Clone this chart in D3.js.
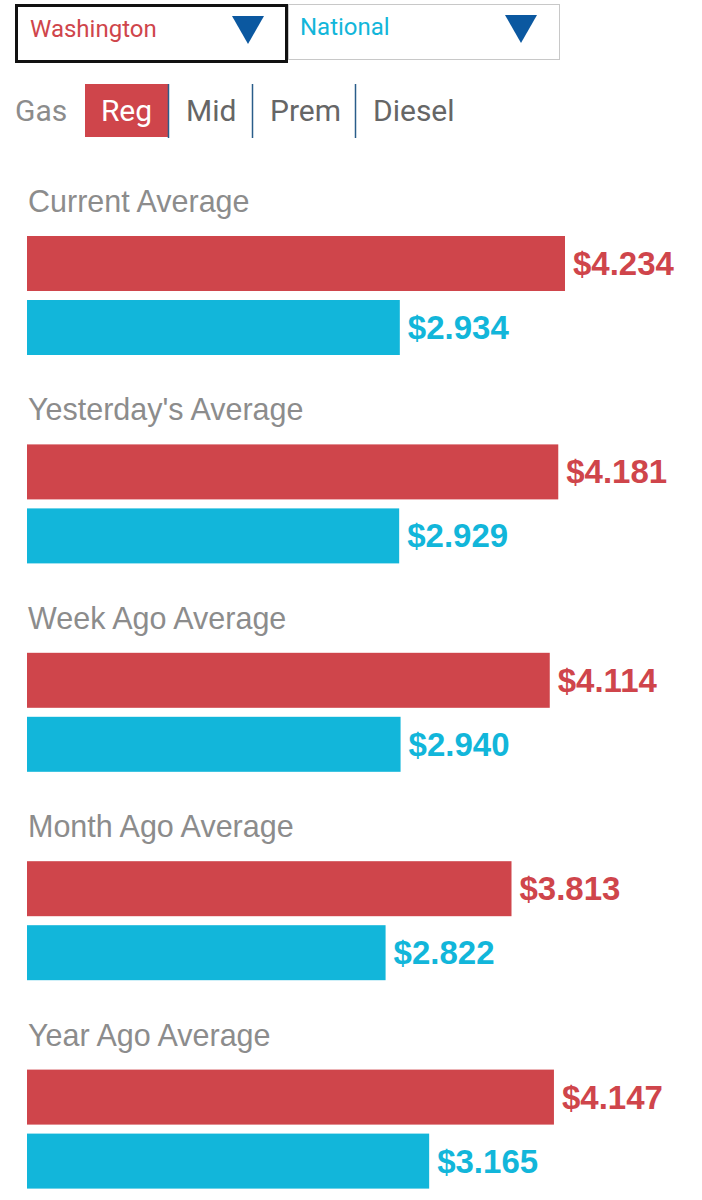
<!DOCTYPE html>
<html><head><meta charset="utf-8">
<script src="https://cdn.jsdelivr.net/npm/d3@7"></script>
<style>
html,body{margin:0;padding:0;background:#fff;}
svg{display:block;}
</style></head>
<body>
<svg id="chart" width="702" height="1200"></svg>
<script>
const categories = ["Current Average","Yesterday's Average","Week Ago Average","Month Ago Average","Year Ago Average"];
const stateValues = [4.234, 4.181, 4.114, 3.813, 4.147];
const nationalValues = [2.934, 2.929, 2.940, 2.822, 3.165];
const seriesNames = ["Washington","National"];
const gasTabs = ["Reg","Mid","Prem","Diesel"];

const RED = "#cf454b", BLUE = "#12b6da", NAVY = "#0b58a0", GRAY = "#8c8c8c";
const svg = d3.select("#chart");

// ---- dropdowns ----
const dd = svg.append("g");
dd.append("rect").attr("x",288.5).attr("y",4.5).attr("width",271).attr("height",55)
  .attr("fill","#fff").attr("stroke","#c8c8c8").attr("stroke-width",1);
dd.append("rect").attr("x",16.5).attr("y",5.5).attr("width",270).attr("height",56)
  .attr("fill","#fff").attr("stroke","#111").attr("stroke-width",3);
dd.append("text").attr("x",30).attr("y",37).attr("font-family","Roboto, 'Liberation Sans', sans-serif")
  .attr("font-size",24).attr("fill",RED).text(seriesNames[0]);
dd.append("text").attr("x",300).attr("y",35).attr("font-family","Roboto, 'Liberation Sans', sans-serif")
  .attr("font-size",24).attr("fill",BLUE).text(seriesNames[1]);
const tri = (cx, ty) => `M${cx-16},${ty} L${cx+16},${ty} L${cx},${ty+28} Z`;
dd.append("path").attr("d",tri(248,16)).attr("fill",NAVY);
dd.append("path").attr("d",tri(521,15)).attr("fill",NAVY);

// ---- gas tabs ----
const tabs = svg.append("g").attr("font-family","Roboto, 'Liberation Sans', sans-serif").attr("font-size",30);
tabs.append("text").attr("x",15).attr("y",121).attr("fill",GRAY).text("Gas");
const tabX = [85, 168, 252, 355];
const tabW = [83, 84, 103, 100];
const textX = [126.5, 186, 270, 373];
gasTabs.forEach((t,i)=>{
  if(i===0){
    tabs.append("rect").attr("x",tabX[i]).attr("y",84).attr("width",tabW[i]).attr("height",53).attr("fill",RED);
  }
  if(i>0){
    tabs.append("line").attr("x1",tabX[i]+0.5).attr("x2",tabX[i]+0.5).attr("y1",84).attr("y2",138)
      .attr("stroke","#2a5d8a").attr("stroke-width",1.5);
  }
  tabs.append("text").attr("x",textX[i]).attr("y",121).attr("text-anchor", i===0 ? "middle" : "start")
    .attr("fill", i===0 ? "#fff" : "#666").text(t);
});

// ---- bars ----
const x = d3.scaleLinear().domain([0, d3.max(stateValues)]).range([27, 565]);
const groupY = d3.scaleBand().domain(categories).range([186, 1228]).paddingInner(0).paddingOuter(0);
const data = categories.map((c,i)=>({cat:c, vals:[stateValues[i], nationalValues[i]]}));
const barH = 55, gap = 9;
const colors = [RED, BLUE];

const g = svg.selectAll("g.grp").data(data).enter().append("g").attr("class","grp")
  .attr("transform", d=>`translate(0,${groupY(d.cat)})`);
g.append("text").attr("x",28).attr("y",26).attr("font-family","'Liberation Sans', Arial, sans-serif")
  .attr("font-size",30.5).attr("fill",GRAY).text(d=>d.cat);
g.each(function(d){
  const gg = d3.select(this);
  d.vals.forEach((v,j)=>{
    const y0 = 50 + j*(barH+gap);
    gg.append("rect").attr("x",x(0)).attr("y",y0).attr("width",x(v)-x(0)).attr("height",barH).attr("fill",colors[j]);
    gg.append("text").attr("x",x(v)+8).attr("y",y0+39)
      .attr("font-family","'Liberation Sans', Arial, sans-serif").attr("font-weight","bold")
      .attr("font-size",33).attr("fill",colors[j])
      .text("$"+v.toFixed(3));
  });
});
</script>
</body></html>
